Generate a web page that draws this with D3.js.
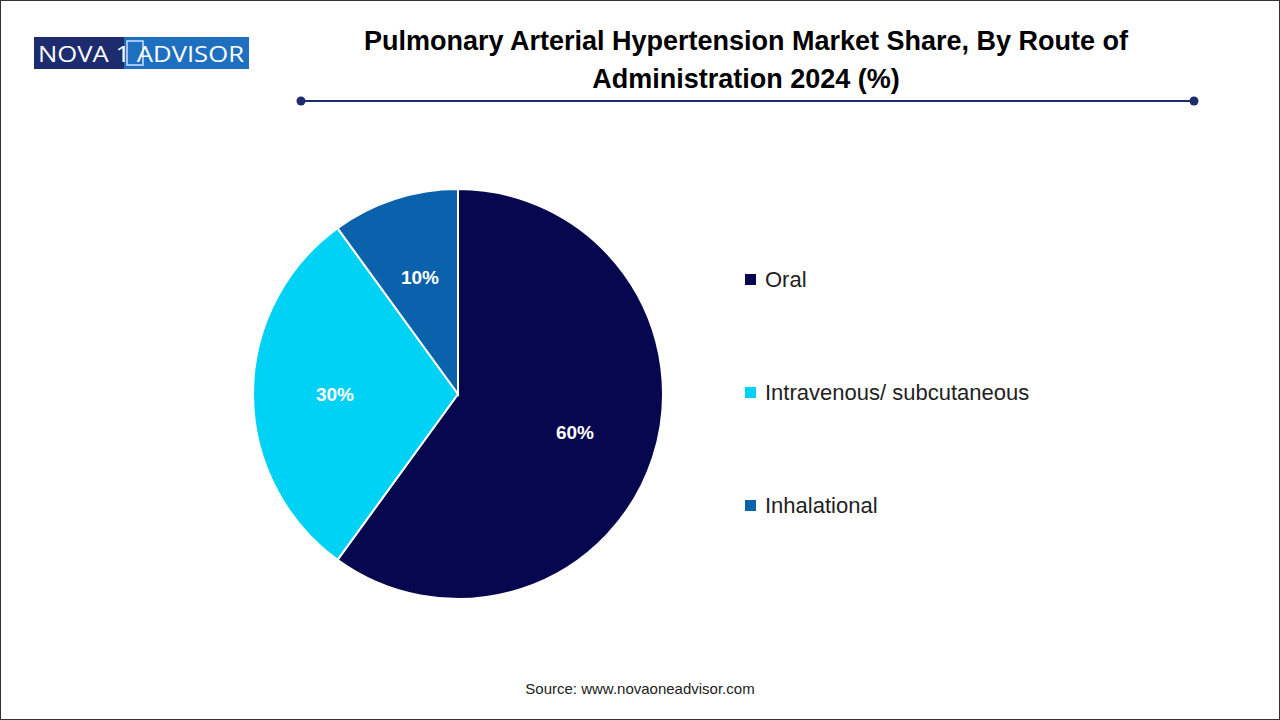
<!DOCTYPE html>
<html><head><meta charset="utf-8">
<script src="https://cdn.jsdelivr.net/npm/d3@7"></script>
<style>body{margin:0;background:#fff}svg{display:block}</style>
</head><body>
<svg width="1280" height="720"></svg>
<script>
// data
const categories = ["Oral", "Intravenous/ subcutaneous", "Inhalational"];
const shares = [60, 30, 10];
const colors = ["#07074f", "#00d2f6", "#0a62ac"];

const svg = d3.select("svg");
svg.append("rect").attr("x", 0.5).attr("y", 0.5).attr("width", 1279).attr("height", 719)
  .attr("fill", "#fff").attr("stroke", "#333");

// logo
const logo = svg.append("g").attr("transform", "translate(34,37)");
logo.append("rect").attr("width", 90).attr("height", 32).attr("fill", "#1c2c6e");
logo.append("rect").attr("x", 90).attr("width", 125).attr("height", 32).attr("fill", "#1f6fc0");
logo.append("rect").attr("x", 93).attr("y", 4).attr("width", 16).attr("height", 24)
  .attr("fill", "none").attr("stroke", "#cfe0ff").attr("stroke-width", 1.5);
logo.append("text").attr("x", 107).attr("y", 25).attr("text-anchor", "middle")
  .attr("font-family", "Open Sans, sans-serif").attr("font-size", 22).attr("fill", "#fff")
  .text("NOVA 1 ADVISOR").attr("textLength", 206).attr("lengthAdjust", "spacingAndGlyphs");

// title
const title = svg.append("text").attr("text-anchor", "middle")
  .attr("font-family", "Liberation Sans, Arial, sans-serif").attr("font-weight", "bold")
  .attr("font-size", 27).attr("fill", "#000");
title.append("tspan").attr("x", 746).attr("y", 50).text("Pulmonary Arterial Hypertension Market Share, By Route of");
title.append("tspan").attr("x", 746).attr("y", 88).text("Administration 2024 (%)");
svg.append("line").attr("x1", 301).attr("x2", 1194).attr("y1", 101).attr("y2", 101)
  .attr("stroke", "#1c2c6e").attr("stroke-width", 2);
svg.selectAll("circle.end").data([301, 1194]).join("circle")
  .attr("cx", d => d).attr("cy", 101).attr("r", 4.5).attr("fill", "#1c2c6e");

// pie
const cx = 458, cy = 394, r = 205;
const pie = d3.pie().sort(null).value(d => d)(shares);
const arc = d3.arc().innerRadius(0).outerRadius(r);
const labelArc = d3.arc().innerRadius(r * 0.6).outerRadius(r * 0.6);
const g = svg.append("g").attr("transform", `translate(${cx},${cy})`);
g.selectAll("path").data(pie).join("path")
  .attr("d", arc).attr("fill", (d, i) => colors[i])
  .attr("stroke", "#fff").attr("stroke-width", 2);
g.selectAll("text").data(pie).join("text")
  .attr("transform", d => `translate(${labelArc.centroid(d)})`)
  .attr("text-anchor", "middle").attr("dy", "0.35em")
  .attr("font-family", "Liberation Sans, Arial, sans-serif").attr("font-weight", "bold")
  .attr("font-size", 19).attr("fill", "#fff")
  .text(d => d.data + "%");

// legend
const leg = svg.selectAll("g.leg").data(categories).join("g")
  .attr("transform", (d, i) => `translate(745,${279 + i * 113})`);
leg.append("rect").attr("x", 0).attr("y", -5).attr("width", 11).attr("height", 11)
  .attr("fill", (d, i) => colors[i]);
leg.append("text").attr("x", 20).attr("dy", "0.35em")
  .attr("font-family", "Liberation Sans, Arial, sans-serif").attr("font-size", 22).attr("fill", "#222")
  .text(d => d);

svg.append("text").attr("x", 640).attr("y", 694).attr("text-anchor", "middle")
  .attr("font-family", "Liberation Sans, Arial, sans-serif").attr("font-size", 15).attr("fill", "#222")
  .text("Source: www.novaoneadvisor.com");
</script>
</body></html>
